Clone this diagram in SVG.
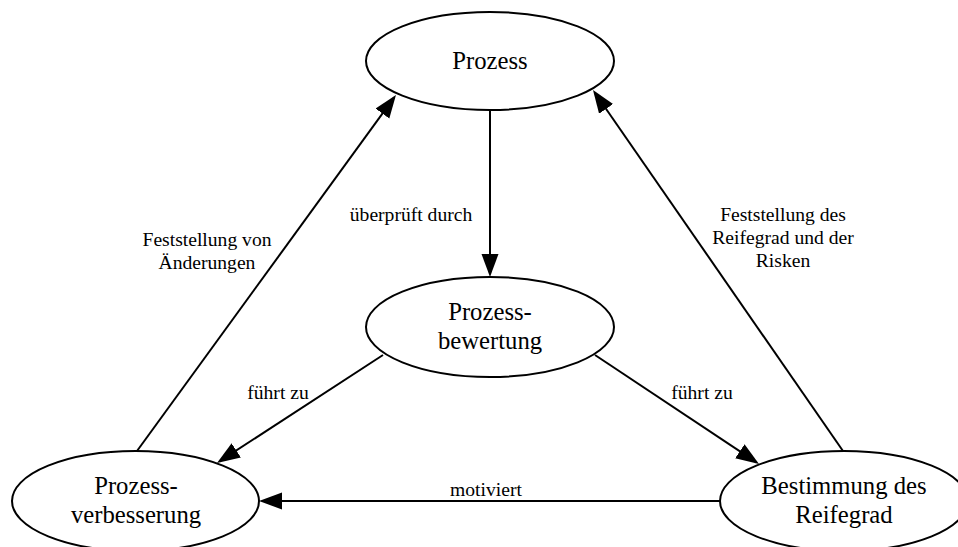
<svg xmlns="http://www.w3.org/2000/svg" width="958" height="547" viewBox="0 0 958 547" font-family="'Liberation Serif', 'DejaVu Serif', serif">
  <style>
    .node ellipse { fill: #ffffff; stroke: #000000; stroke-width: 2; }
    .node text { font-family: 'Liberation Serif', 'DejaVu Serif', serif; font-size: 24.7px; fill: #000000; text-anchor: middle; }
    .edge line { stroke: #000000; stroke-width: 2; fill: none; marker-end: url(#arrow); }
    .label { font-family: 'Liberation Serif', 'DejaVu Serif', serif; font-size: 19.6px; fill: #000000; text-anchor: middle; }
  </style>
  <defs>
    <marker id="arrow" markerUnits="userSpaceOnUse" markerWidth="24" markerHeight="18" refX="20" refY="8.5" orient="auto">
      <path d="M0,0 L23,8.5 L0,17 Z" fill="#000000"/>
    </marker>
  </defs>
  <rect width="958" height="547" fill="#ffffff"/>

  <!-- connectors -->
  <g id="edges" class="edge">
    <line x1="490" y1="110" x2="490" y2="274"/>
    <line x1="137" y1="451" x2="394.2" y2="97.4"/>
    <line x1="843" y1="451" x2="594.7" y2="92.5"/>
    <line x1="383" y1="355" x2="219.5" y2="461.4"/>
    <line x1="595" y1="355" x2="756.5" y2="462.3"/>
    <line x1="720" y1="501" x2="262" y2="501"/>
  </g>

  <!-- connector labels -->
  <g id="edge-labels">
    <text class="label" x="411" y="221">überprüft durch</text>
    <text class="label" x="207" y="246">Feststellung von</text>
    <text class="label" x="207" y="269">Änderungen</text>
    <text class="label" x="783" y="221">Feststellung des</text>
    <text class="label" x="783" y="244">Reifegrad und der</text>
    <text class="label" x="783" y="267">Risken</text>
    <text class="label" x="278" y="399">führt zu</text>
    <text class="label" x="702" y="399">führt zu</text>
    <text class="label" x="486" y="496">motiviert</text>
  </g>

  <!-- nodes -->
  <g id="prozess" class="node">
    <ellipse cx="490" cy="61" rx="124" ry="49"/>
    <text x="490" y="69">Prozess</text>
  </g>
  <g id="prozessbewertung" class="node">
    <ellipse cx="490" cy="327" rx="124" ry="50"/>
    <text x="490" y="320">Prozess-</text>
    <text x="490" y="349">bewertung</text>
  </g>
  <g id="prozessverbesserung" class="node">
    <ellipse cx="135.5" cy="501" rx="123.5" ry="50"/>
    <text x="136" y="494">Prozess-</text>
    <text x="136" y="523">verbesserung</text>
  </g>
  <g id="reifegrad" class="node">
    <ellipse cx="844" cy="501" rx="124" ry="50"/>
    <text x="844" y="494">Bestimmung des</text>
    <text x="844" y="523">Reifegrad</text>
  </g>
</svg>
